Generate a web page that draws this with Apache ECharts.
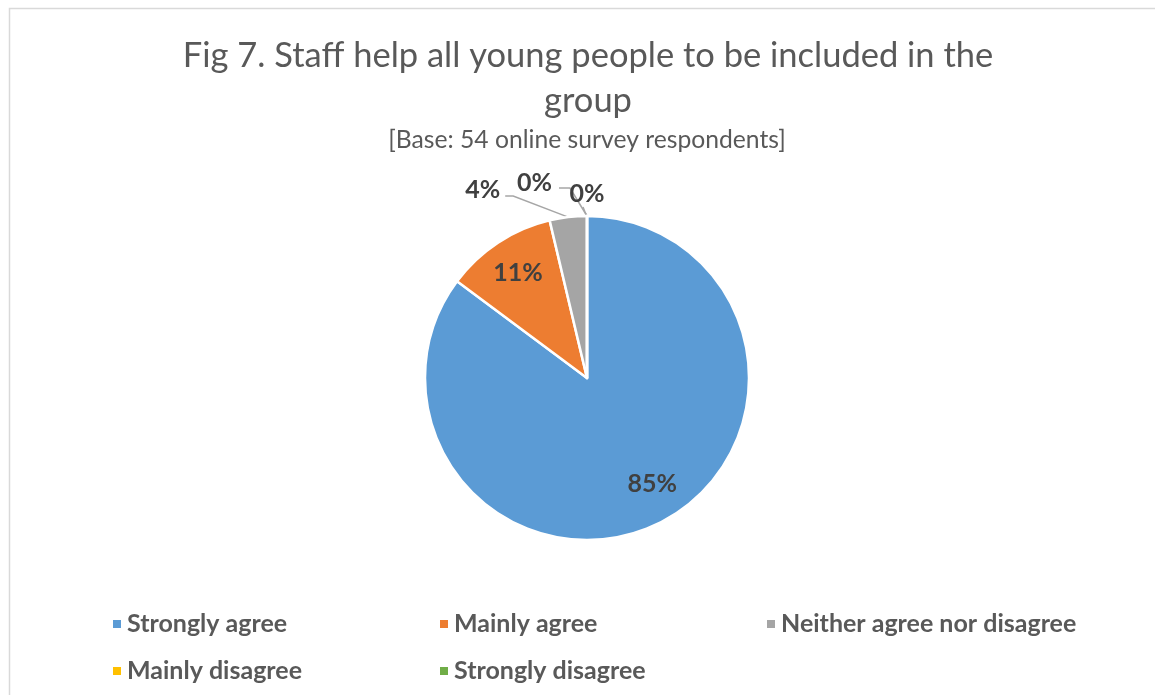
<!DOCTYPE html>
<html>
<head>
<meta charset="utf-8">
<script src="https://cdn.jsdelivr.net/npm/echarts@6/dist/echarts.min.js"></script>
<style>
  html, body { margin: 0; padding: 0; background: #fff; }
  #chart { width: 1155px; height: 695px; }
</style>
</head>
<body>
<div id="chart"></div>
<script>
// responses out of 54
var categories = ['Strongly agree', 'Mainly agree', 'Neither agree nor disagree', 'Mainly disagree', 'Strongly disagree']
var counts = [46, 6, 2, 0, 0]
var colors = ['#5B9BD5', '#ED7D31', '#A5A5A5', '#FFC000', '#70AD47']

var titleText = 'Fig 7. Staff help all young people to be included in the\ngroup'
var subText = '[Base: 54 online survey respondents]'

// where the small outside labels sit, relative to the point where their leader
// line leaves the slice: label anchor, line bend, line end, text align
var calloutPos = [
    null,
    null,
    { label: [-68, -27], bend: [-55, -21], end: [-63, -21], align: 'right' },
    { label: [-35, -33], bend: [-17, -28], end: [-28, -28], align: 'right' },
    { label: [0, -22], bend: [-2, -4], end: [-4, -9], align: 'center' }
]

var myChart = echarts.init(document.getElementById('chart'))

var pieData = []
var labelData = []
for (var i = 0; i < categories.length; i++) {
    var inside = i < 2
    pieData.push({
        name: categories[i],
        value: counts[i],
        label: { show: !inside },
        labelLine: { show: !inside }
    })
    labelData.push({
        name: categories[i],
        value: counts[i],
        label: { show: inside }
    })
}

var labelFont = {
    fontFamily: 'Lato',
    fontSize: 25,
    fontWeight: 'bold',
    color: '#404040'
}

var option = {
    color: colors,
    title: [
        {
            text: titleText,
            left: 583,
            top: 28,
            textAlign: 'center',
            textStyle: {
                fontFamily: 'Lato',
                fontSize: 34.5,
                fontWeight: 'normal',
                color: '#595959',
                lineHeight: 45,
                align: 'center'
            }
        },
        {
            text: subText,
            left: 582,
            top: 123,
            textAlign: 'center',
            textStyle: {
                fontFamily: 'Lato',
                fontSize: 24.7,
                fontWeight: 'normal',
                color: '#595959'
            }
        }
    ],
    graphic: [
        {
            type: 'rect',
            shape: { x: 9.5, y: 8.5, width: 1200, height: 800 },
            style: { fill: 'none', stroke: '#d9d9d9', lineWidth: 1.5 },
            silent: true
        }
    ],
    legend: {
        left: 106,
        top: 602,
        width: 1000,
        itemWidth: 10,
        itemHeight: 10,
        itemGap: 13,
        icon: 'rect',
        textStyle: {
            fontFamily: 'Lato',
            fontSize: 25,
            fontWeight: 'bold',
            color: '#595959',
            width: 298,
            lineHeight: 34
        },
        data: categories
    },
    series: [
        {
            type: 'pie',
            center: [587, 378],
            radius: [0, 162],
            startAngle: 90,
            clockwise: true,
            percentPrecision: 0,
            itemStyle: { borderColor: '#fff', borderWidth: 2.5 },
            label: Object.assign({ formatter: '{d}%', position: 'outside' }, labelFont),
            labelLine: {
                length: 16,
                length2: 14,
                lineStyle: { color: '#A6A6A6', width: 1.5 }
            },
            labelLayout: function (params) {
                var c = calloutPos[params.dataIndex]
                if (!c || !params.labelLinePoints) return {}
                var p = params.labelLinePoints[0]
                return {
                    x: p[0] + c.label[0],
                    y: p[1] + c.label[1],
                    align: c.align,
                    verticalAlign: 'middle',
                    labelLinePoints: [
                        [p[0], p[1]],
                        [p[0] + c.bend[0], p[1] + c.bend[1]],
                        [p[0] + c.end[0], p[1] + c.end[1]]
                    ]
                }
            },
            emphasis: { disabled: true },
            data: pieData
        },
        {
            // invisible copy, only used to put the inside labels at 3/4 of the radius
            type: 'pie',
            center: [587, 378],
            radius: [0, 245],
            startAngle: 90,
            clockwise: true,
            percentPrecision: 0,
            silent: true,
            legendHoverLink: false,
            itemStyle: { color: 'rgba(0,0,0,0)', borderWidth: 0 },
            label: Object.assign({ formatter: '{d}%', position: 'inside' }, labelFont),
            labelLine: { show: false },
            labelLayout: function (params) {
                // Excel sets the big label a little further round the slice
                if (params.dataIndex === 0) return { dx: 9, dy: -6 }
                return {}
            },
            emphasis: { disabled: true },
            data: labelData
        }
    ]
}

myChart.setOption(option)
</script>
</body>
</html>
